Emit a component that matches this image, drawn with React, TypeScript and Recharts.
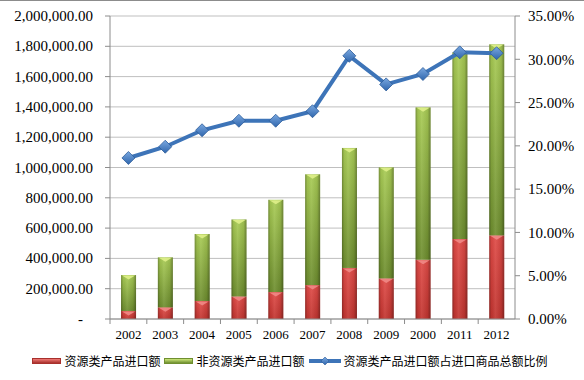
import React from "react";
import {
  ComposedChart,
  Bar,
  Line,
  XAxis,
  YAxis,
  CartesianGrid,
  Legend,
} from "recharts";

const years = ["2002", "2003", "2004", "2005", "2006", "2007", "2008", "2009", "2000", "2011", "2012"];
const resourceImports = [53000, 77000, 119000, 149000, 178000, 224000, 337000, 268000, 391000, 528000, 552000];
const nonResourceImports = [237000, 330000, 442000, 508000, 609000, 731000, 792000, 733000, 1006000, 1232000, 1261000];
const resourceShare = [18.6, 19.9, 21.8, 22.9, 22.9, 24.0, 30.4, 27.1, 28.3, 30.8, 30.7];

const leftTicks = [0, 200000, 400000, 600000, 800000, 1000000, 1200000, 1400000, 1600000, 1800000, 2000000];
const rightTicks = [0, 5, 10, 15, 20, 25, 30, 35];

const seriesNames = ["资源类产品进口额", "非资源类产品进口额", "资源类产品进口额占进口商品总额比例"];

const data = years.map((year, i) => ({
  year,
  resource: resourceImports[i],
  nonResource: nonResourceImports[i],
  ratio: resourceShare[i],
}));

const W = 584;
const H = 380;
const LEFT_W = 110;
const RIGHT_W = 69;
const BAND = (W - LEFT_W - RIGHT_W) / years.length;

const serif = "'Liberation Serif', 'Times New Roman', serif";
const axisGray = "#8c8c8c";

function BarShape(props: any) {
  const { x, y, width, height, kind } = props;
  if (!height || height <= 0) return null;
  const light = kind === "red" ? "#f08a86" : "#dff08a";
  return (
    <g>
      <rect x={x} y={y} width={width} height={height} fill={`url(#${kind}Fill)`} />
      <rect x={x} y={y} width={width} height={height} fill="url(#edgeShade)" />
      <polygon
        points={`${x + 1},${y + 0.5} ${x + width - 1},${y + 0.5} ${x + width / 2},${y + 4.5}`}
        fill={light}
        opacity={0.9}
      />
    </g>
  );
}

function Diamond(props: any) {
  const { cx, cy } = props;
  if (cx == null || cy == null) return null;
  const r = 6.5;
  return (
    <polygon
      points={`${cx},${cy - r} ${cx + r},${cy} ${cx},${cy + r} ${cx - r},${cy}`}
      fill="url(#diamondFill)"
      stroke="#2d5d99"
      strokeWidth={0.8}
    />
  );
}

function LeftTick(props: any) {
  const { x, y, payload } = props;
  const v = payload.value as number;
  const label =
    v === 0
      ? "-"
      : v.toLocaleString("en-US", { minimumFractionDigits: 2, maximumFractionDigits: 2 });
  return (
    <text
      x={v === 0 ? x - 10 : x}
      y={y}
      dy={5}
      textAnchor="end"
      fontFamily={serif}
      fontSize={15}
      fill="#000"
    >
      {label}
    </text>
  );
}

function YearTick(props: any) {
  const { x, y, payload } = props;
  return (
    <g>
      <line x1={x - BAND / 2} x2={x - BAND / 2} y1={y - 8} y2={y - 3} stroke={axisGray} />
      <text x={x} y={y + 12} textAnchor="middle" fontFamily={serif} fontSize={13} fill="#000">
        {payload.value}
      </text>
    </g>
  );
}

function ChartLegend() {
  const item = (swatch: React.ReactNode, text: string) => (
    <div style={{ display: "flex", alignItems: "center", marginRight: 4 }}>
      {swatch}
      <span style={{ marginLeft: 3 }}>{text}</span>
    </div>
  );
  const box = (a: string, b: string) => (
    <div
      style={{
        width: 29,
        height: 6,
        background: `linear-gradient(to bottom, ${a}, ${b})`,
        border: `1px solid ${b}`,
        boxSizing: "border-box",
      }}
    />
  );
  return (
    <div
      style={{
        display: "flex",
        justifyContent: "center",
        paddingTop: 8,
        fontFamily: "'Noto Sans CJK SC', sans-serif",
        fontSize: 12,
        color: "#000",
      }}
    >
      {item(box("#f07a76", "#a8302c"), seriesNames[0])}
      {item(box("#cde77a", "#6f8f30"), seriesNames[1])}
      {item(
        <svg width={32} height={10}>
          <line x1={0} x2={32} y1={5} y2={5} stroke="#3d74b8" strokeWidth={4} />
          <polygon points="16,1 20,5 16,9 12,5" fill="url(#diamondFill)" stroke="#2d5d99" strokeWidth={0.6} />
        </svg>,
        seriesNames[2]
      )}
    </div>
  );
}

export default function App() {
  return (
    <div
      style={{
        position: "absolute",
        left: 0,
        top: 0,
        width: W,
        height: H,
        background: "#fff",
        boxShadow: "inset 0 1px 0 #8c8c8c",
      }}
    >
      <ComposedChart
        width={W}
        height={H}
        data={data}
        margin={{ top: 16, right: 0, left: 0, bottom: 8 }}
        barCategoryGap="30%"
      >
        <defs>
          <linearGradient id="redFill" x1="0" y1="0" x2="0" y2="1">
            <stop offset="0%" stopColor="#e04b47" />
            <stop offset="100%" stopColor="#c23530" />
          </linearGradient>
          <linearGradient id="greenFill" x1="0" y1="0" x2="0" y2="1">
            <stop offset="0%" stopColor="#a9cc55" />
            <stop offset="100%" stopColor="#6e8e2f" />
          </linearGradient>
          <linearGradient id="edgeShade" x1="0" y1="0" x2="1" y2="0">
            <stop offset="0%" stopColor="#000" stopOpacity={0.3} />
            <stop offset="15%" stopColor="#000" stopOpacity={0.05} />
            <stop offset="40%" stopColor="#fff" stopOpacity={0.08} />
            <stop offset="80%" stopColor="#000" stopOpacity={0.08} />
            <stop offset="100%" stopColor="#000" stopOpacity={0.35} />
          </linearGradient>
          <linearGradient id="diamondFill" x1="0" y1="0" x2="0" y2="1">
            <stop offset="0%" stopColor="#7aa8e0" />
            <stop offset="100%" stopColor="#2f66ad" />
          </linearGradient>
        </defs>
        <CartesianGrid yAxisId="left" vertical={false} stroke="#bfbfbf" />
        <XAxis
          dataKey="year"
          height={25}
          tickLine={false}
          axisLine={{ stroke: axisGray }}
          tick={<YearTick />}
          interval={0}
        />
        <YAxis
          yAxisId="left"
          width={LEFT_W}
          domain={[0, 2000000]}
          ticks={leftTicks}
          interval={0}
          tickSize={5}
          tickMargin={12}
          tickLine={{ stroke: axisGray }}
          axisLine={{ stroke: axisGray }}
          tick={<LeftTick />}
        />
        <YAxis
          yAxisId="right"
          orientation="right"
          width={RIGHT_W}
          domain={[0, 35]}
          ticks={rightTicks}
          interval={0}
          tickSize={5}
          tickMargin={8}
          tickLine={{ stroke: axisGray }}
          axisLine={{ stroke: axisGray }}
          tickFormatter={(v: number) => `${v.toFixed(2)}%`}
          tick={{ fontFamily: serif, fontSize: 15, fill: "#000" }}
        />
        <Bar
          yAxisId="left"
          dataKey="resource"
          name={seriesNames[0]}
          stackId="imports"
          fill="#c0504d"
          shape={<BarShape kind="red" />}
          isAnimationActive={false}
        />
        <Bar
          yAxisId="left"
          dataKey="nonResource"
          name={seriesNames[1]}
          stackId="imports"
          fill="#9bbb59"
          shape={<BarShape kind="green" />}
          isAnimationActive={false}
        />
        <Line
          yAxisId="right"
          dataKey="ratio"
          name={seriesNames[2]}
          stroke="#3d74b8"
          strokeWidth={4}
          dot={<Diamond />}
          activeDot={false}
          isAnimationActive={false}
        />
        <Legend verticalAlign="bottom" height={28} content={<ChartLegend />} />
      </ComposedChart>
    </div>
  );
}
